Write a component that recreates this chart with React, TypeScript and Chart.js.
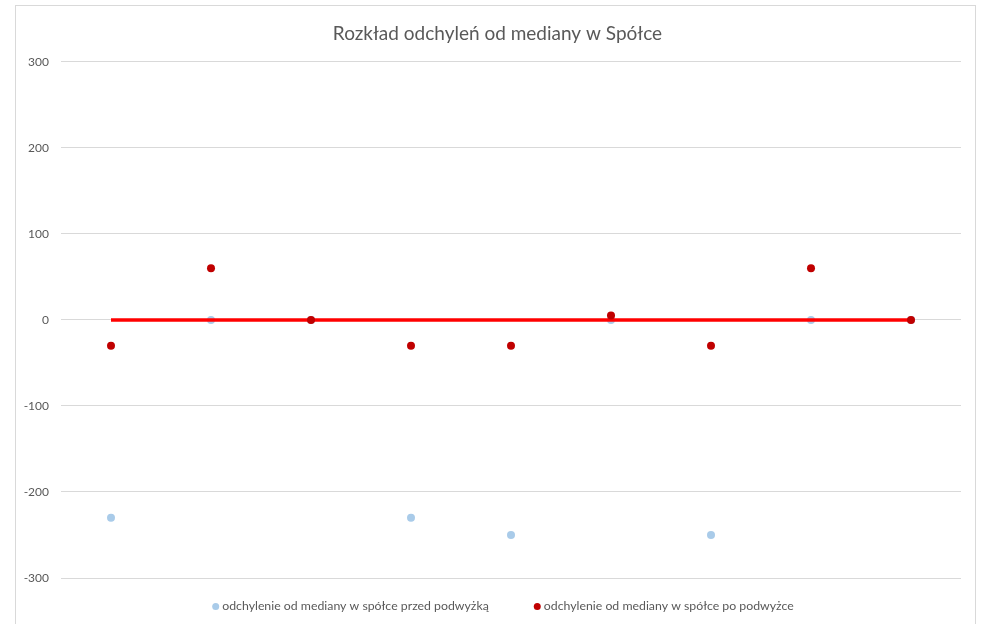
import React, { useEffect, useRef } from "react";
import { Chart, registerables } from "chart.js";

Chart.register(...registerables);

const categories = ["1", "2", "3", "4", "5", "6", "7", "8", "9"];
const beforeRaise = [-230, 0, 0, -230, -250, 0, -250, 0, 0];
const afterRaise = [-30, 60, 0, -30, -30, 5, -30, 60, 0];
const medianLine = [0, 0, 0, 0, 0, 0, 0, 0, 0];
const yTicks = [-300, -200, -100, 0, 100, 200, 300];

const FONT = "Lato, 'Open Sans', sans-serif";
const LEGEND_FONT = "12.3px " + FONT;

const framePlugin = {
  id: "frame",
  afterLayout(chart: any) {
    // centre the title over the chart frame rather than the whole canvas
    if (chart.titleBlock) {
      chart.titleBlock.left = 34;
      chart.titleBlock.right = 961;
    }
  },
  beforeDraw(chart: any) {
    const ctx = chart.ctx;
    ctx.save();
    ctx.fillStyle = "#ffffff";
    ctx.fillRect(0, 0, chart.width, chart.height);
    ctx.strokeStyle = "#d9d9d9";
    ctx.lineWidth = 1;
    ctx.strokeRect(15.5, 5.5, 960, 700);
    ctx.restore();
  },
};

// Bottom legend drawn from the datasets that carry a legend entry
const legendPlugin = {
  id: "bottomLegend",
  afterDraw(chart: any) {
    const ctx = chart.ctx;
    const items = chart.data.datasets
      .map((d: any, i: number) => ({ d, i }))
      .filter((o: any) => o.d.inLegend);
    ctx.save();
    ctx.font = LEGEND_FONT;
    ctx.textBaseline = "middle";
    ctx.textAlign = "left";
    const marker = 7;
    const gap = 3;
    const itemGap = 45;
    const widths = items.map((o: any) => marker + gap + ctx.measureText(o.d.label).width);
    const total = widths.reduce((a: number, b: number) => a + b, 0) + itemGap * (items.length - 1);
    const y = chart.chartArea.bottom + 28.5;
    let x = 503 - total / 2;
    items.forEach((o: any, k: number) => {
      ctx.fillStyle = o.d.pointBackgroundColor;
      ctx.beginPath();
      ctx.arc(x + marker / 2, y, marker / 2, 0, Math.PI * 2);
      ctx.fill();
      ctx.fillStyle = "#595959";
      ctx.fillText(o.d.label, x + marker + gap, y);
      x += widths[k] + itemGap;
    });
    ctx.restore();
  },
};

export default function App() {
  const ref = useRef<HTMLCanvasElement>(null);
  useEffect(() => {
    if (!ref.current) return;
    const chart = new Chart(ref.current, {
      type: "line",
      data: {
        labels: categories,
        datasets: [
          {
            label: "odchylenie od mediany w spółce przed podwyżką",
            inLegend: true,
            data: beforeRaise,
            showLine: false,
            pointRadius: 4,
            pointHoverRadius: 4,
            pointBackgroundColor: "#a9cbe9",
            pointBorderColor: "#a9cbe9",
            backgroundColor: "#a9cbe9",
            borderColor: "#a9cbe9",
            pointBorderWidth: 0,
            order: 2,
          } as any,
          {
            label: "mediana",
            inLegend: false,
            data: medianLine,
            borderColor: "#ff0000",
            backgroundColor: "#ff0000",
            borderWidth: 3.5,
            pointRadius: 0,
            order: 1,
          } as any,
          {
            label: "odchylenie od mediany w spółce po podwyżce",
            inLegend: true,
            data: afterRaise,
            showLine: false,
            pointRadius: 4,
            pointHoverRadius: 4,
            pointBackgroundColor: "#c00000",
            pointBorderColor: "#c00000",
            backgroundColor: "#c00000",
            borderColor: "#c00000",
            pointBorderWidth: 0,
            order: 0,
          } as any,
        ],
      },
      options: {
        animation: false,
        responsive: false,
        maintainAspectRatio: false,
        layout: { padding: { left: 0, right: 21, top: 0, bottom: 0 } },
        plugins: {
          title: {
            display: true,
            text: "Rozkład odchyleń od mediany w Spółce",
            color: "#595959",
            font: { family: FONT, size: 19, weight: "normal" },
            padding: { top: 22, bottom: 17 },
          },
          legend: { display: false },
          tooltip: { enabled: false },
        },
        scales: {
          x: {
            offset: true,
            grid: { display: false },
            border: { display: false },
            ticks: { display: false },
            afterFit: (s: any) => {
              s.height = 46;
            },
          },
          y: {
            min: -300,
            max: 300,
            afterBuildTicks: (s: any) => {
              s.ticks = yTicks.map((v) => ({ value: v }));
            },
            grid: { color: "#d9d9d9", drawTicks: false },
            border: { display: false },
            ticks: {
              color: "#595959",
              font: { family: FONT, size: 12 },
              padding: 12,
            },
            afterFit: (s: any) => {
              s.width = 61;
            },
          },
        },
      },
      plugins: [framePlugin, legendPlugin],
    });
    return () => chart.destroy();
  }, []);
  return (
    <div style={{ position: "absolute", left: 0, top: 0, width: 982, height: 624 }}>
      <canvas ref={ref} width={982} height={624} style={{ width: 982, height: 624 }} />
    </div>
  );
}
